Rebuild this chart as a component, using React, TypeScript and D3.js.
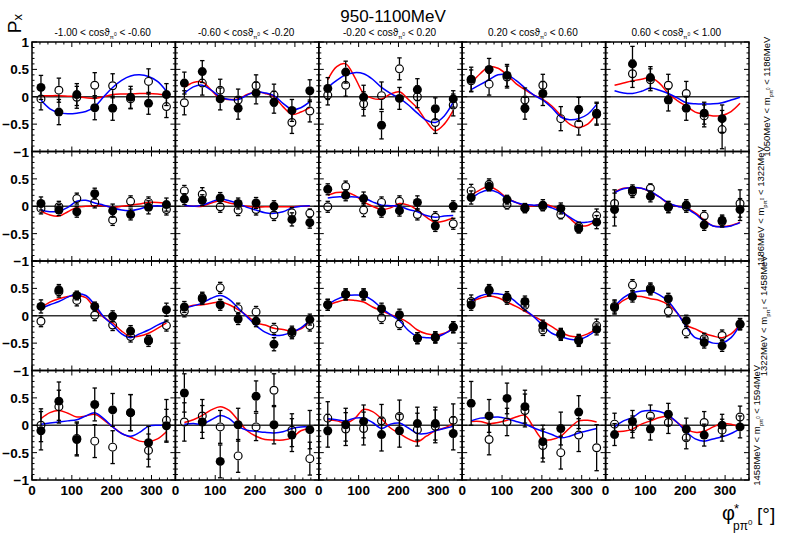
import { scaleLinear, line, curveCatmullRom, range } from 'd3';

const WIDTH = 788;
const HEIGHT = 534;
const LEFT = 32;
const TOP = 42;
const PANEL_W = 143.4;
const PANEL_H = 109.5;
const N_COLS = 5;
const R = 4.5;
const FONT = '"Liberation Sans", Arial, Helvetica, sans-serif';

const PHI_BINS = [22.5, 67.5, 112.5, 157.5, 202.5, 247.5, 292.5, 337.5];
const CURVE_PHI = [22.5, 45, 67.5, 90, 112.5, 135, 157.5, 180, 202.5, 225, 247.5, 270, 292.5, 315, 337.5];
const COS_EDGES = ['-1.00', '-0.60', '-0.20', '0.20', '0.60', '1.00'];
const MASS_EDGES = ['1050', '1186', '1322', '1458', '1594'];
const MASS_LABEL_X = [770, 764, 767, 760];
const X_TICKS = [0, 100, 200, 300];
const Y_TICKS = [1, 0.5, 0, -0.5, -1];

// panels row by row (mass bins), 5 per row (cos bins)
const FILLED: (number | null)[][] = [
  [0.17, -0.28, 0.04, -0.2, -0.21, -0.01, -0.12, 0.04],
  [0.25, 0.46, -0.04, -0.21, 0.07, -0.1, -0.25, 0.11],
  [0.15, 0.45, -0.01, -0.52, -0.03, 0.13, -0.22, -0.04],
  [0.32, 0.5, 0.39, -0.21, 0.06, null, -0.23, -0.32],
  [null, 0.6, 0.35, -0.06, -0.21, -0.3, -0.4, null],
  [0.05, -0.07, -0.1, 0.23, -0.08, -0.15, -0.02, 0.03],
  [0.13, 0.11, 0.15, 0.05, 0.06, 0.0, -0.24, -0.3],
  [0.31, 0.2, 0.14, -0.1, -0.08, 0.07, -0.36, 0.0],
  [0.16, 0.36, 0.12, -0.04, 0.02, -0.04, -0.41, -0.29],
  [-0.06, 0.29, 0.18, -0.02, 0.02, -0.34, -0.26, -0.06],
  [0.17, 0.47, 0.37, 0.17, -0.01, -0.28, -0.46, 0.11],
  [0.16, 0.31, 0.2, -0.06, -0.1, -0.52, -0.29, -0.07],
  [0.2, 0.39, 0.39, 0.13, 0.02, -0.41, -0.39, -0.21],
  [0.2, 0.47, 0.34, 0.26, -0.18, -0.33, -0.46, -0.25],
  [0.15, 0.35, 0.48, 0.31, -0.09, -0.49, -0.55, -0.15],
  [-0.1, 0.44, -0.26, 0.38, 0.28, 0.23, -0.32, -0.01],
  [0.59, 0.06, -0.66, 0.01, 0.53, 0.01, -0.18, -0.08],
  [-0.1, 0.01, 0.07, -0.17, -0.1, 0.03, 0.03, -0.15],
  [0.4, 0.17, 0.49, 0.34, -0.3, -0.06, 0.24, null],
  [-0.17, 0.07, -0.07, 0.2, -0.07, -0.18, 0.0, -0.03],
];

const FILLED_ERR: number[][] = [
  [0.22, 0.23, 0.2, 0.22, 0.22, 0.2, 0.2, 0.2],
  [0.2, 0.2, 0.2, 0.2, 0.2, 0.2, 0.2, 0.2],
  [0.2, 0.2, 0.22, 0.25, 0.2, 0.2, 0.2, 0.15],
  [0.22, 0.2, 0.2, 0.2, 0.22, 0, 0.22, 0.2],
  [0, 0.32, 0.2, 0.2, 0.22, 0.2, 0.25, 0],
  [0.12, 0.1, 0.1, 0.1, 0.12, 0.1, 0.12, 0.12],
  [0.1, 0.1, 0.1, 0.1, 0.1, 0.1, 0.12, 0.1],
  [0.1, 0.1, 0.12, 0.1, 0.1, 0.12, 0.1, 0.1],
  [0.12, 0.08, 0.08, 0.08, 0.1, 0.1, 0.08, 0.12],
  [0.3, 0.1, 0.1, 0.1, 0.1, 0.1, 0.1, 0.2],
  [0.12, 0.1, 0.08, 0.08, 0.1, 0.1, 0.1, 0.12],
  [0.1, 0.1, 0.1, 0.1, 0.1, 0.12, 0.1, 0.1],
  [0.1, 0.1, 0.1, 0.1, 0.1, 0.1, 0.1, 0.1],
  [0.1, 0.1, 0.1, 0.1, 0.1, 0.1, 0.1, 0.1],
  [0.12, 0.1, 0.1, 0.1, 0.1, 0.1, 0.1, 0.1],
  [0.35, 0.35, 0.3, 0.3, 0.3, 0.33, 0.3, 0.3],
  [0.35, 0.3, 0.3, 0.3, 0.28, 0.35, 0.3, 0.35],
  [0.3, 0.3, 0.3, 0.3, 0.3, 0.3, 0.3, 0.3],
  [0.4, 0.3, 0.28, 0.3, 0.3, 0.3, 0.3, 0],
  [0.2, 0.2, 0.2, 0.2, 0.2, 0.2, 0.2, 0.2],
];

const OPEN: (number | null)[][] = [
  [-0.04, 0.12, -0.01, 0.21, 0.2, -0.04, 0.28, -0.18],
  [-0.11, 0.25, 0.12, -0.06, 0.2, 0.03, -0.47, -0.26],
  [0.03, 0.21, -0.13, 0.02, 0.51, 0.0, -0.47, -0.15],
  [0.29, 0.23, 0.36, -0.06, 0.21, -0.4, -0.5, -0.3],
  [null, 0.42, 0.31, 0.21, 0.06, -0.35, -0.6, null],
  [-0.04, -0.01, 0.14, 0.07, -0.25, 0.09, 0.07, -0.06],
  [0.28, 0.22, -0.01, -0.07, -0.06, -0.16, -0.12, -0.13],
  [-0.01, 0.36, -0.07, 0.07, 0.09, -0.15, -0.2, -0.32],
  [0.28, 0.4, 0.03, -0.03, 0.0, -0.15, -0.37, -0.17],
  [0.05, 0.26, 0.33, -0.01, -0.01, -0.18, -0.28, 0.05],
  [-0.1, 0.44, 0.28, 0.01, -0.17, -0.38, -0.44, -0.18],
  [0.08, 0.33, 0.51, 0.13, 0.07, -0.24, -0.32, -0.18],
  [0.2, 0.39, 0.39, -0.04, -0.15, -0.41, -0.4, -0.21],
  [0.26, 0.46, 0.31, 0.19, -0.26, -0.35, -0.44, -0.18],
  [0.17, 0.56, 0.5, 0.08, -0.3, -0.42, -0.36, -0.16],
  [0.0, 0.34, -0.24, -0.29, -0.4, 0.23, -0.46, 0.09],
  [0.06, 0.17, -0.03, -0.56, -0.03, 0.64, -0.09, -0.61],
  [0.13, -0.07, -0.06, 0.08, 0.16, -0.08, -0.02, 0.09],
  [null, -0.26, 0.06, 0.27, -0.37, -0.5, -0.18, -0.41],
  [0.02, -0.03, 0.17, 0.05, -0.23, 0.05, -0.09, 0.15],
];

const OPEN_ERR: number[][] = [
  [0.2, 0.22, 0.2, 0.23, 0.22, 0.18, 0.23, 0.2],
  [0.22, 0.22, 0.2, 0.2, 0.2, 0.2, 0.2, 0.2],
  [0.18, 0.2, 0.22, 0.25, 0.2, 0.2, 0.2, 0.2],
  [0.2, 0.2, 0.2, 0.22, 0.2, 0.22, 0.2, 0.2],
  [0, 0.25, 0.2, 0.2, 0.22, 0.2, 0.35, 0],
  [0.1, 0.1, 0.1, 0.1, 0.1, 0.1, 0.1, 0.1],
  [0.1, 0.12, 0.1, 0.1, 0.1, 0.1, 0.1, 0.08],
  [0.1, 0.1, 0.12, 0.1, 0.1, 0.1, 0.1, 0.1],
  [0.12, 0.1, 0.08, 0.08, 0.08, 0.08, 0.08, 0.12],
  [0.25, 0.1, 0.08, 0.1, 0.1, 0.1, 0.1, 0.25],
  [0.1, 0.1, 0.1, 0.1, 0.1, 0.1, 0.08, 0.1],
  [0.1, 0.1, 0.1, 0.1, 0.1, 0.1, 0.1, 0.1],
  [0.1, 0.1, 0.1, 0.1, 0.1, 0.1, 0.1, 0.1],
  [0.12, 0.1, 0.1, 0.1, 0.1, 0.1, 0.1, 0.12],
  [0.12, 0.1, 0.1, 0.1, 0.1, 0.1, 0.1, 0.1],
  [0.3, 0.3, 0.3, 0.3, 0.3, 0.33, 0.3, 0.38],
  [0.35, 0.3, 0.3, 0.3, 0.25, 0.3, 0.3, 0.3],
  [0.3, 0.3, 0.3, 0.3, 0.3, 0.3, 0.3, 0.3],
  [0, 0.28, 0.25, 0.3, 0.3, 0.3, 0.3, 0.42],
  [0.2, 0.2, 0.2, 0.2, 0.2, 0.2, 0.2, 0.2],
];

// fit curves, sampled at CURVE_PHI
const RED_FIT: number[][] = [
  [0.02, 0.02, 0.02, 0.01, 0.0, -0.02, -0.03, 0.0, 0.04, 0.05, 0.05, 0.06, 0.06, 0.05, 0.03],
  [0.17, 0.26, 0.27, 0.12, -0.03, -0.05, -0.04, 0.04, 0.09, 0.06, 0.0, -0.18, -0.32, -0.28, -0.2],
  [0.31, 0.55, 0.6, 0.36, 0.06, -0.03, -0.04, 0.05, 0.09, -0.05, -0.21, -0.45, -0.62, -0.5, -0.25],
  [0.25, 0.42, 0.55, 0.52, 0.4, 0.24, 0.13, 0.03, -0.05, -0.17, -0.34, -0.5, -0.56, -0.5, -0.31],
  [0.21, 0.25, 0.29, 0.32, 0.35, 0.25, 0.06, -0.07, -0.17, -0.28, -0.32, -0.35, -0.34, -0.27, -0.12],
  [-0.09, -0.16, -0.18, -0.1, -0.02, 0.0, 0.01, 0.01, -0.02, 0.0, 0.02, 0.04, 0.07, 0.07, 0.05],
  [0.02, 0.0, 0.0, 0.06, 0.1, 0.06, 0.03, 0.0, -0.02, -0.01, -0.01, -0.01, -0.01, 0.0, 0.0],
  [0.2, 0.25, 0.25, 0.2, 0.08, 0.0, -0.06, -0.03, 0.05, 0.02, -0.07, -0.2, -0.29, -0.27, -0.21],
  [0.2, 0.3, 0.36, 0.28, 0.15, 0.07, 0.0, 0.01, 0.04, 0.0, -0.07, -0.22, -0.35, -0.35, -0.26],
  [0.26, 0.33, 0.34, 0.33, 0.26, 0.17, 0.05, 0.0, -0.03, -0.12, -0.25, -0.36, -0.37, -0.35, -0.29],
  [0.15, 0.25, 0.31, 0.35, 0.37, 0.33, 0.14, -0.03, -0.13, -0.28, -0.38, -0.37, -0.32, -0.23, -0.13],
  [0.14, 0.19, 0.2, 0.23, 0.25, 0.2, 0.11, 0.0, -0.13, -0.17, -0.23, -0.25, -0.28, -0.24, -0.1],
  [0.19, 0.25, 0.29, 0.28, 0.25, 0.16, 0.09, 0.02, -0.04, -0.13, -0.26, -0.33, -0.35, -0.32, -0.23],
  [0.26, 0.32, 0.36, 0.33, 0.25, 0.17, 0.08, -0.01, -0.1, -0.2, -0.3, -0.37, -0.38, -0.33, -0.23],
  [0.15, 0.28, 0.35, 0.35, 0.31, 0.28, 0.2, 0.05, -0.17, -0.24, -0.32, -0.37, -0.4, -0.33, -0.16],
  [0.12, 0.23, 0.27, 0.22, 0.15, 0.17, 0.2, 0.1, -0.03, -0.15, -0.22, -0.29, -0.3, -0.25, -0.12],
  [0.05, 0.1, 0.18, 0.28, 0.34, 0.27, 0.09, -0.1, -0.2, -0.26, -0.27, -0.27, -0.23, -0.1, -0.06],
  [0.1, 0.08, 0.04, 0.12, 0.29, 0.25, 0.12, -0.05, -0.15, -0.25, -0.3, -0.2, -0.1, -0.05, 0.03],
  [0.07, 0.07, 0.03, 0.05, 0.09, 0.15, 0.18, -0.05, -0.26, -0.26, -0.2, -0.05, 0.08, 0.09, 0.06],
  [-0.12, -0.11, -0.07, 0.02, 0.08, 0.14, 0.16, 0.05, -0.07, -0.13, -0.11, -0.03, 0.03, 0.02, -0.03],
];

const BLUE_FIT: number[][] = [
  [-0.06, -0.22, -0.29, -0.31, -0.3, -0.27, -0.18, 0.0, 0.17, 0.3, 0.38, 0.4, 0.37, 0.28, 0.1],
  [0.06, 0.18, 0.21, 0.12, 0.0, -0.05, -0.05, 0.03, 0.09, 0.07, 0.02, -0.12, -0.23, -0.2, -0.09],
  [0.17, 0.3, 0.4, 0.44, 0.42, 0.32, 0.17, 0.06, -0.03, -0.15, -0.3, -0.43, -0.47, -0.35, -0.1],
  [0.13, 0.22, 0.31, 0.4, 0.4, 0.3, 0.16, 0.03, -0.06, -0.2, -0.37, -0.42, -0.4, -0.32, -0.14],
  [0.11, 0.07, 0.06, 0.1, 0.16, 0.12, 0.06, -0.02, -0.11, -0.13, -0.13, -0.13, -0.11, -0.06, -0.01],
  [-0.07, -0.1, -0.09, -0.02, 0.09, 0.11, 0.06, 0.02, -0.03, -0.07, -0.08, -0.05, 0.0, 0.01, 0.0],
  [0.02, 0.0, 0.02, 0.08, 0.13, 0.1, 0.05, -0.02, -0.07, -0.12, -0.13, -0.1, -0.03, 0.0, 0.01],
  [0.15, 0.17, 0.17, 0.17, 0.15, 0.08, 0.02, 0.01, 0.0, -0.06, -0.1, -0.17, -0.2, -0.18, -0.17],
  [0.14, 0.25, 0.29, 0.25, 0.14, 0.07, 0.03, 0.02, 0.02, -0.03, -0.1, -0.2, -0.29, -0.29, -0.26],
  [0.25, 0.32, 0.34, 0.33, 0.27, 0.17, 0.06, 0.0, -0.04, -0.14, -0.27, -0.36, -0.38, -0.36, -0.3],
  [0.13, 0.2, 0.26, 0.34, 0.4, 0.37, 0.2, -0.02, -0.17, -0.33, -0.4, -0.33, -0.26, -0.17, -0.1],
  [0.14, 0.18, 0.23, 0.32, 0.37, 0.3, 0.14, -0.02, -0.18, -0.3, -0.36, -0.35, -0.3, -0.22, -0.09],
  [0.21, 0.3, 0.36, 0.38, 0.37, 0.28, 0.14, 0.02, -0.09, -0.27, -0.38, -0.4, -0.4, -0.33, -0.24],
  [0.26, 0.36, 0.4, 0.4, 0.37, 0.25, 0.11, -0.02, -0.18, -0.32, -0.38, -0.43, -0.44, -0.37, -0.26],
  [0.17, 0.33, 0.42, 0.45, 0.45, 0.38, 0.26, 0.05, -0.2, -0.4, -0.44, -0.5, -0.5, -0.4, -0.16],
  [0.02, 0.04, 0.06, 0.08, 0.1, 0.17, 0.23, 0.12, -0.03, -0.15, -0.2, -0.13, -0.02, 0.0, 0.0],
  [0.02, 0.03, 0.02, 0.1, 0.18, 0.12, -0.02, -0.09, -0.11, -0.13, -0.14, -0.12, -0.06, -0.03, -0.03],
  [0.12, 0.1, 0.08, 0.13, 0.13, 0.05, -0.06, 0.02, 0.04, -0.05, -0.15, -0.15, -0.1, -0.06, -0.02],
  [0.08, 0.13, 0.14, 0.15, 0.12, 0.07, 0.02, -0.05, -0.11, -0.17, -0.23, -0.2, -0.14, -0.1, -0.06],
  [-0.03, 0.08, 0.14, 0.25, 0.27, 0.25, 0.18, 0.05, -0.12, -0.25, -0.29, -0.25, -0.21, -0.15, -0.06],
];

const fmtY = (v: number) => (v < 0 ? '\u2212' + Math.abs(v) : String(v));

function Points({ values, errors, x, y, open }: {
  values: (number | null)[]; errors: number[];
  x: (v: number) => number; y: (v: number) => number; open: boolean;
}) {
  return (
    <g>
      {values.map((v, i) => {
        if (v === null) return null;
        const cx = x(PHI_BINS[i]);
        const cy = y(v);
        const top = y(v + errors[i]);
        const bot = y(v - errors[i]);
        return (
          <g key={i}>
            {cy - R > top && <line x1={cx} x2={cx} y1={top} y2={cy - R} stroke="#000" strokeWidth={1.3} />}
            {bot > cy + R && <line x1={cx} x2={cx} y1={cy + R} y2={bot} stroke="#000" strokeWidth={1.3} />}
            <line x1={cx - 2.2} x2={cx + 2.2} y1={top} y2={top} stroke="#000" strokeWidth={1.3} />
            <line x1={cx - 2.2} x2={cx + 2.2} y1={bot} y2={bot} stroke="#000" strokeWidth={1.3} />
            {open
              ? <circle cx={cx} cy={cy} r={R - 0.6} fill="none" stroke="#000" strokeWidth={1.2} />
              : <circle cx={cx} cy={cy} r={R} fill="#000" />}
          </g>
        );
      })}
    </g>
  );
}

function Panel({ index }: { index: number }) {
  const row = Math.floor(index / N_COLS);
  const col = index % N_COLS;
  const x0 = LEFT + col * PANEL_W;
  const y0 = TOP + row * PANEL_H;
  const x = scaleLinear().domain([0, 360]).range([x0, x0 + PANEL_W]);
  const y = scaleLinear().domain([-1, 1]).range([y0 + PANEL_H, y0]);

  const curve = line<number>()
    .x((_, i) => x(CURVE_PHI[i]))
    .y(d => y(d))
    .curve(curveCatmullRom.alpha(0.5));

  const minorX = range(0, 361, 20);
  const minorY = range(-10, 11).map(k => k / 10);
  const majorY = [-1, -0.5, 0, 0.5, 1];

  return (
    <g>
      <line x1={x(0)} x2={x(360)} y1={y(0)} y2={y(0)} stroke="#333" strokeWidth={1.7} />
      <path d={curve(RED_FIT[index]) ?? ''} fill="none" stroke="#ff0000" strokeWidth={1.5} />
      <path d={curve(BLUE_FIT[index]) ?? ''} fill="none" stroke="#0000ff" strokeWidth={1.5} />
      <Points values={OPEN[index]} errors={OPEN_ERR[index]} x={x} y={y} open />
      <Points values={FILLED[index]} errors={FILLED_ERR[index]} x={x} y={y} open={false} />

      {/* ticks on all four sides, pointing inward */}
      {minorX.map(t => {
        const len = t % 100 === 0 ? 5 : 2.5;
        return (
          <g key={'x' + t}>
            <line x1={x(t)} x2={x(t)} y1={y(-1)} y2={y(-1) - len} stroke="#000" strokeWidth={1} />
            <line x1={x(t)} x2={x(t)} y1={y(1)} y2={y(1) + len} stroke="#000" strokeWidth={1} />
          </g>
        );
      })}
      {minorY.map(t => {
        const len = majorY.some(m => Math.abs(m - t) < 1e-6) ? 5 : 2.5;
        return (
          <g key={'y' + t}>
            <line x1={x(0)} x2={x(0) + len} y1={y(t)} y2={y(t)} stroke="#000" strokeWidth={1} />
            <line x1={x(360)} x2={x(360) - len} y1={y(t)} y2={y(t)} stroke="#000" strokeWidth={1} />
          </g>
        );
      })}
      <rect x={x(0)} y={y(1)} width={PANEL_W} height={PANEL_H} fill="none" stroke="#000" strokeWidth={1.5} />

      {row === 3 && X_TICKS.map(t => (
        <text key={'xl' + t} x={x(t)} y={495} textAnchor="middle" fontSize={13.5} fontWeight="bold">{t}</text>
      ))}
      {col === 0 && Y_TICKS.filter(t => row === 0 || t !== 1).map(t => (
        <text key={'yl' + t} x={29} y={y(t) + 5} textAnchor="end" fontSize={13.5} fontWeight="bold">{fmtY(t)}</text>
      ))}
    </g>
  );
}

export default function App() {
  const panels = range(FILLED.length);
  return (
    <div style={{ position: 'absolute', left: 0, top: 0 }}>
      <svg width={WIDTH} height={HEIGHT} style={{ display: 'block', background: '#fff', fontFamily: FONT }}>
        <text x={393} y={22} textAnchor="middle" fontSize={17}>950-1100MeV</text>

        <text transform="translate(21,14) rotate(-90)" textAnchor="end" fontSize={19}>
          P<tspan fontSize={13} dy={1}>x</tspan>
        </text>

        {COS_EDGES.slice(0, 5).map((lo, c) => (
          <text key={'cos' + c} x={LEFT + (c + 0.5) * PANEL_W - 1} y={36} textAnchor="middle" fontSize={10}>
            {lo} &lt; cos&#977;<tspan fontSize={6} dy={2.5}>{'\u03c0'}</tspan>
            <tspan fontSize={5} dy={-2.5}>0</tspan>
            <tspan dy={0}> &lt; {COS_EDGES[c + 1]}</tspan>
          </text>
        ))}

        {MASS_EDGES.slice(0, 4).map((lo, r) => (
          <text key={'m' + r} transform={`translate(${MASS_LABEL_X[r]},${TOP + (r + 0.5) * PANEL_H}) rotate(-90)`}
            textAnchor="middle" fontSize={9.5}>
            {lo}MeV &lt; m<tspan fontSize={6} dy={2.5}>{'p\u03c0'}</tspan>
            <tspan fontSize={4.5} dy={-2.5}>0</tspan>
            <tspan> &lt; {MASS_EDGES[r + 1]}MeV</tspan>
          </text>
        ))}

        {panels.map(i => <Panel key={i} index={i} />)}

        <text x={722} y={520} fontSize={20}>{'\u03c6'}</text>
        <text x={734} y={513} fontSize={13}>*</text>
        <text x={733} y={530} fontSize={12}>{'p\u03c0'}<tspan fontSize={8} dy={-5}>0</tspan></text>
        <text x={757} y={521} fontSize={19}>[°]</text>
      </svg>
    </div>
  );
}
